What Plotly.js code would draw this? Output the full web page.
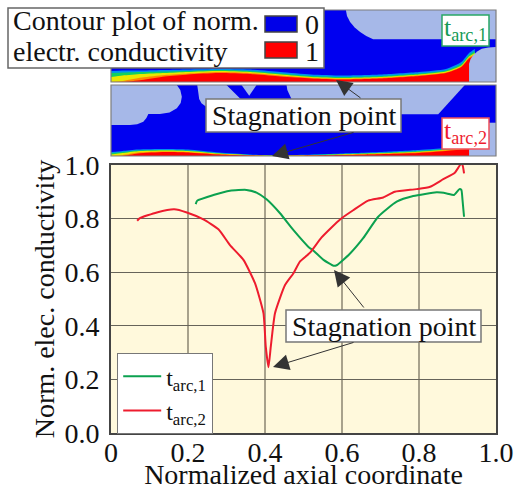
<!DOCTYPE html>
<html><head><meta charset="utf-8">
<script src="https://cdn.plot.ly/plotly-3.0.1.min.js"></script>
<style>html,body{margin:0;padding:0;background:#fff}#c{width:514px;height:490px}</style>
</head><body><div id="c"></div>
<script>
// Line chart data
const arc1X=[.220,.224,.266,.309,.352,.378,.404,.439,.474,.517,.524,.552,.578,.586,.621,.655,.694,.742,.785,.846,.872,.891,.905,.910,.913,.917];
const arc1Y=[.854,.867,.888,.904,.907,.897,.872,.820,.757,.689,.683,.646,.624,.626,.670,.727,.807,.863,.884,.898,.894,.888,.910,.907,.870,.807];
const arc2X=[.068,.074,.119,.164,.197,.240,.279,.309,.344,.374,.396,.402,.409,.415,.426,.452,.474,.491,.517,.547,.595,.630,.668,.707,.737,.794,.829,.863,.893,.909,.913,.917];
const arc2Y=[.792,.801,.823,.835,.823,.797,.760,.701,.646,.559,.447,.322,.245,.322,.447,.552,.596,.640,.673,.730,.797,.832,.867,.879,.900,.910,.919,.947,.971,1.004,1.0,.969];
const xTicks=[0,.2,.4,.6,.8,1];
const xTickText=['0','0.2','0.4','0.6','0.8','1.0'];
const yTicks=[0,.2,.4,.6,.8,1];
const yTickText=['0.0','0.2','0.4','0.6','0.8','1.0'];

// Contour strip 1: conductivity band heights
const s1X=[0,.03,.08,.14,.2,.28,.36,.44,.52,.6,.7,.8,.87,.91,.93,.945];
const s1Edge=[11,11.5,11.5,12,12.5,13,12.5,10,7.5,6.5,7.5,10,13,20,29,33];
const s1Green=[9,9.5,10,10.5,11,12,11,8.5,6,5,6,8.5,11.5,18,27,31];
const s1Yellow=[5,6.5,8,9,10,11,10,7.5,5,4,5,7.5,10.5,16.5,25.5,29];
const s1Orange=[0,1,4.5,7,8.5,10,9,6.5,4.2,3.2,4.3,6.8,9.5,15.5,24.5,27.5];
const s1Red=[0,0,2,5.5,7.5,9,8,5.5,3.5,2.5,3.5,6,9,15,23.5,26];
// Contour strip 2: conductivity band heights
const s2X=[0,.03,.07,.14,.2,.28,.36,.42,.5,.6,.7,.8,.93];
const s2Edge=[4,5,6.5,7,6.5,3.5,1.5,.6,1.2,2.5,4,6,10];
const s2Green=[3,4,5.5,6,5.5,2.8,1.1,.4,.9,2,3.2,5,9];
const s2Yellow=[1.5,3,4.8,5.5,5,2.4,.9,.3,.7,1.6,2.7,4.3,8];
const s2Orange=[0,1,3.5,4.5,4,1.9,.7,.2,.5,1.2,2.2,3.7,7.5];
const s2Red=[0,0,2.5,4,3.5,1.4,.4,.1,.3,.9,1.8,3,7];
// Solid regions (light blue)
const r1aX=[.610,.613,.621,.633,.647,.663,.681,1,1];
const r1aY=[72,66,60,54.5,50,46,42.7,42.7,72];
const r1bX=[.930,.930,.934,.941,.951,.963,.980,1,1];
const r1bY=[0,18.3,23,26.7,30.5,33.3,34.6,35,0];
const r2aX=[0,.171,.180,.184,.181,.171,.152,.127,.097,.092,.084,.068,.049,0];
const r2aY=[71,71,66,59.3,53,47.7,43.5,42,42,38,34.3,31.8,31,31];
const r2bX=[.224,.300,.357,.266,.248,.235,.229,.227];
const r2bY=[71,71,49.3,46,49,52.7,57,62.7];
const r2cX=[.339,.378,.359];
const r2cY=[71,71,60.3];
const r2dX=[.456,.919,.850,.491,.469,.458];
const r2dY=[71,71,41.7,41.7,56.7,66];
const r2eX=[.930,.930,1,1];
const r2eY=[0,33.3,33.3,0];

const W=514,H=490,L=111,R=496,T=165,B=433;
const px=x=>x/W, py=y=>1-y/H;
const serif='"Liberation Serif","Times New Roman",serif';
const bandColors=['#0090f0','#10d060','#e8e800','#ff8800','#ff0000'];
const light='#a6b8e8';
const traces=[];
function band(x,ys,xa,ya){ys.forEach((y,i)=>traces.push({type:'scatter',mode:'lines',line:{width:0,shape:'spline',smoothing:.6,color:bandColors[i]},x:x,y:y,xaxis:xa,yaxis:ya,fill:'tozeroy',fillcolor:bandColors[i],showlegend:false,hoverinfo:'skip'}));}
function solid(x,y,xa,ya){traces.push({type:'scatter',mode:'none',x:x,y:y,xaxis:xa,yaxis:ya,fill:'toself',fillcolor:light,showlegend:false,hoverinfo:'skip'});}
band(s1X,[s1Edge,s1Green,s1Yellow,s1Orange,s1Red],'x2','y2');
band(s2X,[s2Edge,s2Green,s2Yellow,s2Orange,s2Red],'x3','y3');
solid(r1aX,r1aY,'x2','y2');solid(r1bX,r1bY,'x2','y2');
solid(r2aX,r2aY,'x3','y3');solid(r2bX,r2bY,'x3','y3');solid(r2cX,r2cY,'x3','y3');solid(r2dX,r2dY,'x3','y3');solid(r2eX,r2eY,'x3','y3');
traces.push({type:'scatter',mode:'lines',name:'t<sub>arc,1</sub>',x:arc1X,y:arc1Y,line:{color:'#0ba14f',width:2,shape:'spline',smoothing:.5},cliponaxis:false});
traces.push({type:'scatter',mode:'lines',name:'t<sub>arc,2</sub>',x:arc2X,y:arc2Y,line:{color:'#ee1c2e',width:2,shape:'spline',smoothing:.5},cliponaxis:false});

const stripAxis=(dom,anchor,extra)=>Object.assign({domain:dom,anchor:anchor,visible:false,fixedrange:true},extra);
const rect=(x0,y0,x1,y1,fill,line,w)=>({type:'rect',xref:'paper',yref:'paper',x0:px(x0),x1:px(x1),y0:py(y0),y1:py(y1),fillcolor:fill,line:{color:line,width:w||1.5},layer:'above'});
const stripBg=(y0,y1)=>({type:'rect',xref:'paper',yref:'paper',x0:px(L),x1:px(R),y0:py(y0),y1:py(y1),fillcolor:'#0000f0',line:{width:0},layer:'below'});
const stripEdge=(y0,y1)=>({type:'rect',xref:'paper',yref:'paper',x0:px(L),x1:px(R),y0:py(y0),y1:py(y1),fillcolor:'rgba(0,0,0,0)',line:{color:'#7d7d7d',width:1.2},layer:'above'});
const shapes=[
 stripBg(10,82),stripBg(85,156),stripEdge(10,82),stripEdge(85,156),
 rect(8,8,324,68,'#fff','#666'),
 rect(265,16,297,32,'#0000e8','#444'),
 rect(265,42,297,58,'#ff0000','#444'),
 rect(442,15,489,46,'#fff','#2aa766'),
 rect(442,118,489,149,'#fff','#f0505a'),
 rect(206,99,401,132,'#fff','#777'),
 rect(286,310,481,342,'#fff','#777'),
];
const txt=(t,x,y,size,color,anchor)=>({text:t,xref:'paper',yref:'paper',x:px(x),y:py(y),xanchor:anchor||'center',yanchor:'middle',showarrow:false,font:{family:serif,size:size,color:color||'#111'}});
const arrow=(x,y,ax,ay)=>({text:'',xref:'paper',yref:'paper',x:px(x),y:py(y),ax:ax-x,ay:ay-y,axref:'pixel',ayref:'pixel',showarrow:true,arrowhead:2,arrowsize:3.2,arrowwidth:1,arrowcolor:'#333',standoff:0,startstandoff:0});
const annotations=[
 txt('Contour plot of norm.',11,21,28,'#111','left'),
 txt('electr. conductivity',11,52,28,'#111','left'),
 txt('0',312,24,28),txt('1',312,51,28),
 txt('t<sub>arc,1</sub>',465,29,26,'#159a55'),
 txt('t<sub>arc,2</sub>',465,132,26,'#ee1c2e'),
 txt('Stagnation point',304,115,28),
 txt('Stagnation point',384,326,28),
 arrow(336,80,362,99),arrow(272,156,355,132),
 arrow(334,270,365,309),arrow(273,367,355,342),
];
const layout={
 width:W,height:H,margin:{l:0,r:0,t:0,b:0},paper_bgcolor:'#fff',plot_bgcolor:'#fff9dc',
 font:{family:serif,color:'#111',size:28},
 xaxis:{domain:[px(L),px(R)],anchor:'y',range:[0,1],tickvals:xTicks,ticktext:xTickText,tickangle:0,ticks:'',ticklen:0,ticklabelstandoff:-7,
   showgrid:true,gridcolor:'#a8a28c',gridwidth:1.5,zeroline:false,showline:true,mirror:true,linecolor:'#444',linewidth:2,
   tickfont:{family:serif,size:28,color:'#111'},
   title:{text:'Normalized axial coordinate',font:{family:serif,size:28,color:'#111'},standoff:0}},
 yaxis:{domain:[py(B),py(T)],anchor:'x',range:[0,1],tickvals:yTicks,ticktext:yTickText,ticks:'',ticklabelstandoff:4,
   showgrid:true,gridcolor:'#66645a',gridwidth:1,zeroline:false,showline:true,mirror:true,linecolor:'#444',linewidth:2,
   tickfont:{family:serif,size:28,color:'#111'},
   title:{text:'Norm. elec. conductivity',font:{family:serif,size:28,color:'#111'},standoff:2}},
 xaxis2:stripAxis([px(L),px(R)],'y2',{range:[0,1]}),
 yaxis2:stripAxis([py(82),py(10)],'x2',{range:[0,72]}),
 xaxis3:stripAxis([px(L),px(R)],'y3',{range:[0,1]}),
 yaxis3:stripAxis([py(156),py(85)],'x3',{range:[0,71]}),
 showlegend:true,
 legend:{x:px(117),y:py(353),xanchor:'left',yanchor:'top',bgcolor:'#fff',bordercolor:'#777',borderwidth:1.2,font:{family:serif,size:24,color:'#111'},itemwidth:38,tracegroupgap:0},
 shapes:shapes,annotations:annotations
};
Plotly.newPlot('c',traces,layout,{displayModeBar:false,staticPlot:true});
</script></body></html>
